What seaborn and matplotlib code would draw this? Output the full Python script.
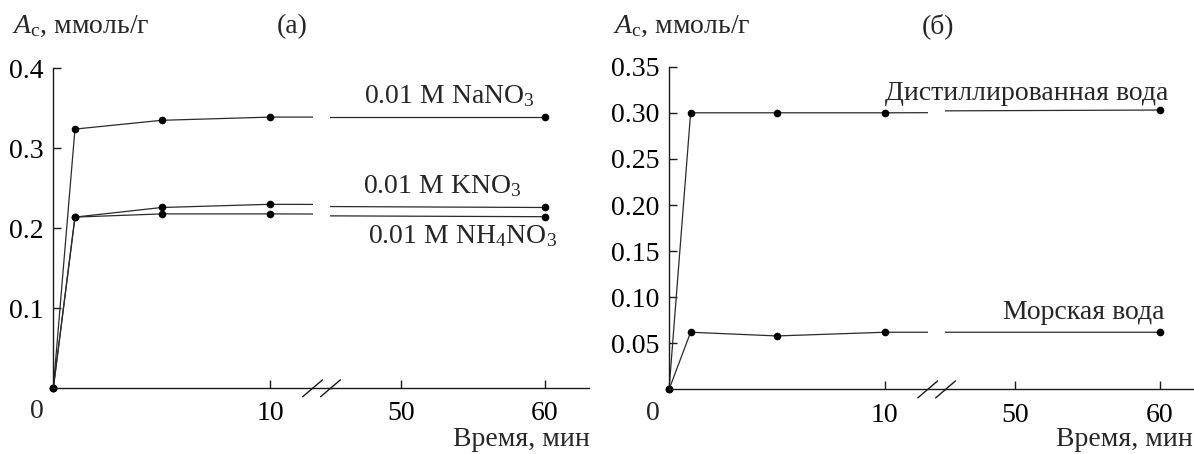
import matplotlib
matplotlib.use("Agg")
import matplotlib.pyplot as plt
import seaborn as sns
import pandas as pd

# ---------------- data ----------------
time_min = [0, 1, 5, 10, 60]

# panel (а)
nano3 = [0.0, 0.324, 0.335, 0.339, 0.339]
kno3 = [0.0, 0.214, 0.226, 0.230, 0.226]
nh4no3 = [0.0, 0.214, 0.218, 0.218, 0.2145]

# panel (б)
distilled = [0.0, 0.300, 0.300, 0.300, 0.303]
sea = [0.0, 0.062, 0.058, 0.062, 0.062]

xticks_a_part1 = [10]
xticks_part2 = [50, 60]
yticks_a = [0.1, 0.2, 0.3, 0.4]
yticks_a_labels = ["0.1", "0.2", "0.3", "0.4"]
yticks_b = [0.05, 0.10, 0.15, 0.20, 0.25, 0.30, 0.35]
yticks_b_labels = ["0.05", "0.10", "0.15", "0.20", "0.25", "0.30", "0.35"]

ylabel_text = r"$A_{\mathrm{c}}$, ммоль/г"
xlabel_text = "Время, мин"

# ---------------- style ----------------
sns.set_style("ticks")
plt.rcParams["font.family"] = ["Liberation Serif", "DejaVu Serif"]
plt.rcParams["mathtext.fontset"] = "custom"
plt.rcParams["mathtext.rm"] = "Liberation Serif"
plt.rcParams["mathtext.it"] = "Liberation Serif:italic"
plt.rcParams["mathtext.bf"] = "Liberation Serif:bold"

FS = 20
AX_COL = "#1a1a1a"
LINE_COL = "#2b2b2b"

W, H = 1194, 454
fig = plt.figure(figsize=(W / 100, H / 100), dpi=100)
fig.patch.set_facecolor("white")


def rect(x0, x1, ytop, ybot):
    return [x0 / W, (H - ybot) / H, (x1 - x0) / W, (ybot - ytop) / H]


def long_df(names, arrays):
    rows = []
    for n, arr in zip(names, arrays):
        for t, v in zip(time_min, arr):
            rows.append({"time": t, "value": v, "series": n})
    return pd.DataFrame(rows)


def style_axes(ax):
    for s in ["top", "right"]:
        ax.spines[s].set_visible(False)
    for s in ["left", "bottom"]:
        ax.spines[s].set_color(AX_COL)
        ax.spines[s].set_linewidth(1.0)
    ax.tick_params(direction="in", length=6, width=1.0, colors=AX_COL,
                   labelsize=FS, labelcolor="black")
    ax.tick_params(axis="x", pad=9.5)
    ax.tick_params(axis="y", pad=7)
    ax.set_facecolor("none")
    ax.set_xlabel("")
    ax.set_ylabel("")


def panel(df, rectA, rectB, xlimA, xlimB, ylim, yt, ytl, spine_extend,
          break_x, break_dx, break_dy):
    axA = fig.add_axes(rectA)
    axB = fig.add_axes(rectB)
    for ax in (axA, axB):
        sns.lineplot(data=df, x="time", y="value", units="series",
                     estimator=None, sort=False, color=LINE_COL,
                     linewidth=0.9, marker="o", markersize=5.5,
                     markeredgewidth=0, markerfacecolor="black", ax=ax,
                     legend=False)
        style_axes(ax)
        ax.set_ylim(*ylim)
        ax.spines["bottom"].set_position(("data", 0))
    axA.set_xlim(*xlimA)
    axB.set_xlim(*xlimB)
    axA.spines["left"].set_position(("data", 0))
    axA.spines["left"].set_bounds(0, yt[-1])
    axA.spines["bottom"].set_bounds(0, spine_extend)
    axA.set_xticks(xticks_a_part1)
    axA.set_xticklabels([str(v) for v in xticks_a_part1])
    axA.set_yticks(yt)
    axA.set_yticklabels(ytl)
    axB.spines["left"].set_visible(False)
    axB.set_yticks([])
    axB.set_xticks(xticks_part2)
    axB.set_xticklabels([str(v) for v in xticks_part2])
    # corner "0" label
    axA.annotate("0", xy=(0, 0), xycoords="data", xytext=(-12, -17),
                 textcoords="offset points", ha="center", va="center",
                 fontsize=FS)
    # axis break marks
    for off in (-break_dx * 0.9, break_dx * 0.9):
        cx = break_x + off
        axA.plot([cx - break_dx, cx + break_dx], [-break_dy, break_dy],
                 color=AX_COL, linewidth=1.0, clip_on=False)
    return axA, axB


# ---------------- panel (а) ----------------
df_a = long_df(["NaNO3", "KNO3", "NH4NO3"], [nano3, kno3, nh4no3])
axA1, axB1 = panel(
    df_a,
    rect(40.3, 313.3, 68.3, 397.9), rect(330, 589, 68.3, 397.9),
    (-0.6, 12.0), (45.1, 63.05), (-0.012, 0.4),
    yticks_a, yticks_a_labels, 12.8, 12.38, 0.46, 0.0106)

axB1.text(53.4, 0.357, "0.01 M NaNO$_3$", ha="center", va="baseline", fontsize=FS)
axB1.text(52.9, 0.2437, "0.01 M KNO$_3$", ha="center", va="baseline", fontsize=FS)
axB1.text(54.3, 0.181, "0.01 M NH$_4$NO$_3$", ha="center", va="baseline", fontsize=FS)

# ---------------- panel (б) ----------------
df_b = long_df(["distilled", "sea"], [distilled, sea])
axA2, axB2 = panel(
    df_b,
    rect(656.1, 928, 66.7, 399.1), rect(945, 1193, 66.7, 399.1),
    (-0.6, 12.0), (45.17, 62.28), (-0.0105, 0.35),
    yticks_b, yticks_b_labels, 12.79, 12.4, 0.46, 0.0092)

axB2.text(60.55, 0.314, "Дистиллированная вода", ha="right", va="baseline", fontsize=FS)
axB2.text(60.34, 0.0764, "Морская вода", ha="right", va="baseline", fontsize=FS)

# ---------------- figure texts ----------------
fig.text(12 / W, (H - 33) / H, ylabel_text, ha="left", va="baseline", fontsize=FS)
fig.text(292 / W, (H - 33) / H, "(а)", ha="center", va="baseline", fontsize=FS)
fig.text(613 / W, (H - 33) / H, ylabel_text, ha="left", va="baseline", fontsize=FS)
fig.text(938 / W, (H - 33) / H, "(б)", ha="center", va="baseline", fontsize=FS)
fig.text(590 / W, (H - 446) / H, xlabel_text, ha="right", va="baseline", fontsize=FS)
fig.text(1193 / W, (H - 446) / H, xlabel_text, ha="right", va="baseline", fontsize=FS)

fig.savefig("out.png", dpi=100, facecolor="white")
